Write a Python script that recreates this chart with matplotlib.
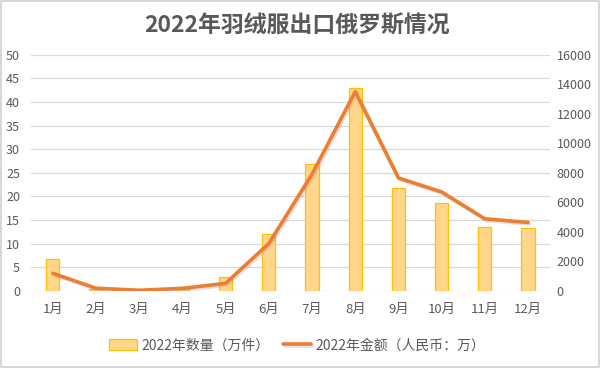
import numpy as np
import matplotlib.pyplot as plt
import matplotlib.patheffects as pe

plt.rcParams['font.family'] = ['Noto Sans CJK SC', 'DejaVu Sans']

months = ['1月', '2月', '3月', '4月', '5月', '6月', '7月', '8月', '9月', '10月', '11月', '12月']
quantity = [6.7, 0.3, 0.05, 0.8, 2.9, 12.0, 26.8, 43.0, 21.8, 18.5, 13.6, 13.2]
amount = [1180, 170, 30, 160, 500, 3200, 7900, 13500, 7650, 6700, 4880, 4630]

text_c = '#595959'
grid_c = '#D9D9D9'

fig = plt.figure(figsize=(6, 3.68), dpi=100)
ax = fig.add_axes([0.052, 0.21, 0.864, 0.641])
ax2 = ax.twinx()

x = np.arange(len(months))
bars = ax.bar(x, quantity, width=0.31, color='#FFD68A', edgecolor='#FFC000',
              linewidth=0.9, label='2022年数量（万件）', zorder=2)
line, = ax2.plot(x, amount, color='#ED7D31', linewidth=2.6, solid_capstyle='round',
                 label='2022年金额（人民币：万）', zorder=3,
                 path_effects=[pe.SimpleLineShadow(offset=(1.2, -1.2), shadow_color='#999999', alpha=0.3),
                               pe.Normal()])

ax.set_xlim(-0.5, 11.5)
ax.set_ylim(0, 50)
ax.set_yticks(np.arange(0, 51, 5))
ax2.set_ylim(0, 16000)
ax2.set_yticks(np.arange(0, 16001, 2000))
ax.set_xticks(x)
ax.set_xticklabels(months)

ax.yaxis.grid(True, color=grid_c, linewidth=0.9, zorder=0)
ax.set_axisbelow(True)
for a in (ax, ax2):
    for s in a.spines.values():
        s.set_visible(False)
ax.tick_params(axis='both', length=0, colors=text_c, labelsize=9)
ax.tick_params(axis='y', pad=8)
ax.tick_params(axis='x', pad=9, labelsize=9.5)
ax2.tick_params(axis='y', length=0, colors=text_c, labelsize=9, pad=5)

fig.suptitle('2022年羽绒服出口俄罗斯情况', x=0.495, y=0.962, fontsize=16.5,
             fontweight='bold', color=text_c)

fig.legend(handles=[bars, line], loc='center', bbox_to_anchor=(0.495, 0.062), ncol=2,
           frameon=False, fontsize=10, labelcolor=text_c, handlelength=2.0,
           handleheight=0.9, handletextpad=0.3, columnspacing=1.0)

border = plt.Rectangle((0.001, 0.002), 0.997, 0.995, transform=fig.transFigure,
                       fill=False, edgecolor='#D0D0D0', linewidth=1.2)
fig.patches.append(border)

fig.savefig('out.png', dpi=100)
